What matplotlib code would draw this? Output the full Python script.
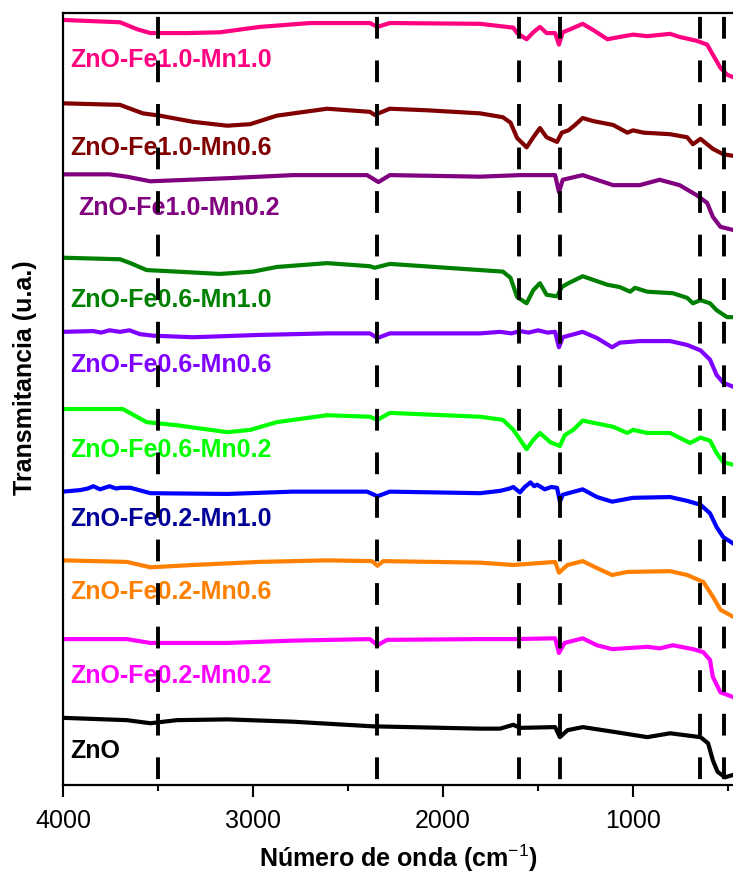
import matplotlib.pyplot as plt

plt.rcParams['font.family'] = ['Liberation Sans', 'DejaVu Sans']
plt.rcParams['mathtext.fontset'] = 'custom'
plt.rcParams['mathtext.rm'] = 'Liberation Sans'
plt.rcParams['mathtext.it'] = 'Liberation Sans:italic'
plt.rcParams['mathtext.bf'] = 'Liberation Sans:bold'

# Espectros FTIR apilados: número de onda (cm-1) y transmitancia (u.a.)
wn_fe10_mn10 = [4000, 3700, 3610, 3540, 3345, 3175, 2965, 2700, 2385, 2345, 2280, 1805, 1700,
                1630, 1610, 1560, 1525, 1490, 1455, 1410, 1390, 1370, 1330, 1265, 1210, 1135,
                1070, 1000, 925, 805, 755, 665, 610, 580, 540, 505, 474]
t_fe10_mn10 = [99.1, 98.8, 97.9, 97.4, 97.4, 97.5, 98.2, 98.7, 98.7, 98.2, 98.7, 98.6, 98.3,
               98.1, 97.4, 96.6, 97.5, 98.2, 97.4, 97.4, 95.9, 97.5, 97.9, 98.6, 97.8, 96.6,
               96.9, 97.2, 97.0, 97.3, 96.9, 96.4, 95.9, 94.6, 92.9, 92.0, 91.7]

wn_fe10_mn06 = [4000, 3700, 3580, 3490, 3315, 3135, 3015, 2875, 2610, 2385, 2360, 2280, 2085,
                1805, 1685, 1645, 1610, 1560, 1525, 1490, 1455, 1400, 1375, 1340, 1305, 1265,
                1210, 1105, 1030, 1000, 945, 805, 715, 685, 645, 610, 580, 525, 474]
t_fe10_mn06 = [88.3, 88.1, 87.0, 86.7, 85.9, 85.4, 85.6, 86.7, 87.6, 87.2, 86.8, 87.6, 87.4,
               87.0, 86.5, 85.8, 83.8, 82.6, 83.9, 85.1, 83.9, 83.3, 84.5, 84.8, 85.5, 86.4,
               86.0, 85.5, 84.5, 84.8, 84.5, 84.3, 83.9, 83.0, 83.7, 83.0, 82.4, 81.7, 81.5]

wn_fe10_mn02 = [4000, 3755, 3665, 3540, 3135, 2790, 2400, 2340, 2280, 1805, 1595, 1410, 1390,
                1370, 1265, 1105, 965, 860, 755, 665, 610, 580, 540, 474]
t_fe10_mn02 = [79.1, 79.1, 78.8, 78.2, 78.6, 79.0, 79.0, 78.1, 79.0, 78.8, 79.0, 79.0, 76.8,
               78.4, 79.0, 77.7, 77.7, 78.4, 77.7, 76.4, 75.4, 73.6, 72.3, 71.9]

wn_fe06_mn10 = [4000, 3700, 3645, 3560, 3400, 3175, 3000, 2875, 2610, 2385, 2360, 2280, 1805,
                1685, 1645, 1610, 1560, 1525, 1490, 1455, 1400, 1375, 1340, 1265, 1135, 1070,
                1015, 990, 925, 790, 715, 685, 645, 595, 560, 505, 474]
t_fe06_mn10 = [68.3, 68.1, 67.6, 66.7, 66.5, 66.2, 66.5, 67.1, 67.6, 67.2, 67.0, 67.5, 66.7,
               66.5, 65.7, 63.2, 62.4, 64.1, 65.0, 63.5, 63.3, 64.5, 65.0, 65.9, 64.8, 64.5,
               63.9, 64.4, 63.9, 63.7, 63.1, 62.4, 62.8, 62.4, 61.5, 60.6, 60.6]

wn_fe06_mn06 = [4000, 3840, 3800, 3755, 3700, 3650, 3595, 3525, 3315, 2965, 2610, 2385, 2345,
                2280, 1805, 1700, 1640, 1595, 1550, 1500, 1450, 1410, 1390, 1370, 1265, 1190,
                1110, 1070, 965, 805, 715, 645, 595, 560, 525, 474]
t_fe06_mn06 = [58.7, 58.8, 58.6, 58.9, 58.7, 58.9, 58.4, 58.2, 58.0, 58.3, 58.5, 58.5, 57.9,
               58.5, 58.5, 58.7, 58.5, 58.8, 58.6, 58.9, 58.6, 58.7, 56.7, 58.0, 58.7, 57.9,
               56.7, 57.3, 57.5, 57.5, 57.0, 56.3, 55.1, 53.1, 52.1, 51.6]

wn_fe06_mn02 = [4000, 3685, 3560, 3400, 3135, 3015, 2875, 2610, 2385, 2345, 2280, 1805, 1685,
                1630, 1560, 1525, 1490, 1435, 1385, 1360, 1315, 1265, 1105, 1030, 1000, 925,
                805, 700, 645, 595, 560, 525, 474]
t_fe06_mn02 = [48.7, 48.7, 47.0, 46.6, 45.7, 46.0, 47.0, 47.9, 47.7, 47.3, 48.2, 47.7, 47.3,
               46.0, 43.5, 44.7, 45.6, 44.4, 43.9, 45.3, 46.0, 47.2, 46.4, 45.6, 46.0, 45.6,
               45.6, 44.3, 45.0, 44.6, 43.0, 41.8, 41.5]

wn_fe02_mn10 = [4000, 3910, 3870, 3840, 3805, 3780, 3755, 3720, 3700, 3645, 3540, 3135, 2790,
                2400, 2345, 2280, 1805, 1700, 1650, 1630, 1595, 1570, 1540, 1520, 1505, 1465,
                1430, 1400, 1385, 1370, 1265, 1190, 1110, 1000, 805, 715, 645, 595, 560, 525,
                474]
t_fe02_mn10 = [38.0, 38.2, 38.4, 38.7, 38.3, 38.5, 38.7, 38.4, 38.5, 38.5, 37.8, 37.7, 38.0,
               38.0, 37.4, 38.0, 37.8, 38.1, 38.4, 38.6, 37.9, 38.6, 39.2, 38.7, 38.9, 38.3,
               38.6, 38.5, 36.7, 37.6, 38.3, 37.3, 36.7, 37.2, 37.3, 36.8, 36.3, 35.2, 33.4,
               32.1, 31.3]

wn_fe02_mn06 = [4000, 3665, 3540, 3315, 2965, 2610, 2375, 2345, 2315, 1805, 1630, 1410, 1390,
                1345, 1265, 1190, 1110, 1030, 805, 715, 630, 580, 540, 474]
t_fe02_mn06 = [29.1, 28.9, 28.2, 28.5, 28.9, 29.1, 29.0, 28.4, 29.0, 28.8, 28.5, 28.9, 27.5,
               28.5, 29.0, 28.1, 27.2, 27.6, 27.7, 27.2, 26.3, 24.4, 22.7, 21.8]

wn_fe02_mn02 = [4000, 3665, 3540, 3135, 2790, 2385, 2345, 2295, 1805, 1630, 1410, 1390, 1360,
                1265, 1190, 1110, 925, 860, 790, 685, 630, 595, 580, 540, 474]
t_fe02_mn02 = [18.9, 18.9, 18.4, 18.4, 18.7, 18.9, 18.1, 18.8, 18.9, 18.9, 19.0, 17.1, 18.4,
               19.0, 18.1, 17.6, 17.9, 17.7, 18.1, 17.6, 17.2, 16.2, 14.0, 12.0, 11.4]

wn_zno = [4000, 3665, 3540, 3400, 3135, 2790, 2370, 1805, 1700, 1630, 1595, 1410, 1385, 1345,
          1265, 1105, 925, 805, 645, 605, 580, 555, 515, 474]
t_zno = [8.7, 8.4, 8.0, 8.4, 8.5, 8.2, 7.6, 7.3, 7.3, 7.8, 7.4, 7.5, 6.2, 7.1,
         7.5, 6.9, 6.2, 6.7, 6.2, 5.4, 3.2, 1.7, 1.0, 1.3]

etiquetas = ['ZnO-Fe1.0-Mn1.0', 'ZnO-Fe1.0-Mn0.6', 'ZnO-Fe1.0-Mn0.2',
             'ZnO-Fe0.6-Mn1.0', 'ZnO-Fe0.6-Mn0.6', 'ZnO-Fe0.6-Mn0.2',
             'ZnO-Fe0.2-Mn1.0', 'ZnO-Fe0.2-Mn0.6', 'ZnO-Fe0.2-Mn0.2', 'ZnO']

# Bandas de absorción marcadas (cm-1)
bandas = [3500, 2350, 1600, 1385, 650, 520]

espectros = [(wn_fe10_mn10, t_fe10_mn10), (wn_fe10_mn06, t_fe10_mn06),
             (wn_fe10_mn02, t_fe10_mn02), (wn_fe06_mn10, t_fe06_mn10),
             (wn_fe06_mn06, t_fe06_mn06), (wn_fe06_mn02, t_fe06_mn02),
             (wn_fe02_mn10, t_fe02_mn10), (wn_fe02_mn06, t_fe02_mn06),
             (wn_fe02_mn02, t_fe02_mn02), (wn_zno, t_zno)]

colores = ['#FF0080', '#800000', '#800080', '#008000', '#8000FF',
           '#00FF00', '#0000FF', '#FF8000', '#FF00FF', '#000000']
colores_txt = ['#FF0080', '#800000', '#800080', '#008000', '#8000FF',
               '#00FF00', '#000099', '#FF8000', '#FF00FF', '#000000']

# posición de cada rótulo (x en cm-1, y en u.a.)
pos_txt = [(3963, 93.0), (3963, 81.6), (3921, 73.8), (3963, 61.9), (3963, 53.5),
           (3963, 42.5), (3963, 33.5), (3963, 24.1), (3963, 13.2), (3963, 3.5)]

fig = plt.figure(figsize=(7.33, 8.75), dpi=100)
ax = fig.add_axes([63/733, 90/875, 670/733, 772/875])

for (wn, t), c in zip(espectros, colores):
    ax.plot(wn, t, color=c, lw=3, zorder=2)

for (x, y), txt, c in zip(pos_txt, etiquetas, colores_txt):
    ax.text(x, y, txt, color=c, fontsize=18, fontweight='bold',
            ha='left', va='baseline', zorder=2.5)

for b in bandas:
    ax.plot([b, b], [100, 0], color='k', lw=2.8, ls=(10.2, (5.6, 5.6)), zorder=4)

ax.set_xlim(4000, 474)
ax.set_ylim(0, 100)
ax.spines['right'].set_visible(False)
for s in ['left', 'bottom', 'top']:
    ax.spines[s].set_linewidth(1.6)

ax.set_yticks([])
ax.set_xticks([4000, 3000, 2000, 1000])
ax.set_xticks([3500, 2500, 1500, 500], minor=True)
ax.tick_params(axis='x', which='major', direction='out', length=8.5, width=1.5,
               labelsize=18, pad=8.5)
ax.tick_params(axis='x', which='minor', direction='out', length=4, width=1.5)

ax.set_xlabel('Número de onda (cm$^{-1}$)', fontsize=18, fontweight='bold', labelpad=7)
fig.text(25/733, 1 - 378/875, 'Transmitancia (u.a.)', rotation=90, fontsize=18,
         fontweight='bold', ha='center', va='center')

fig.savefig('out.png', dpi=100)
